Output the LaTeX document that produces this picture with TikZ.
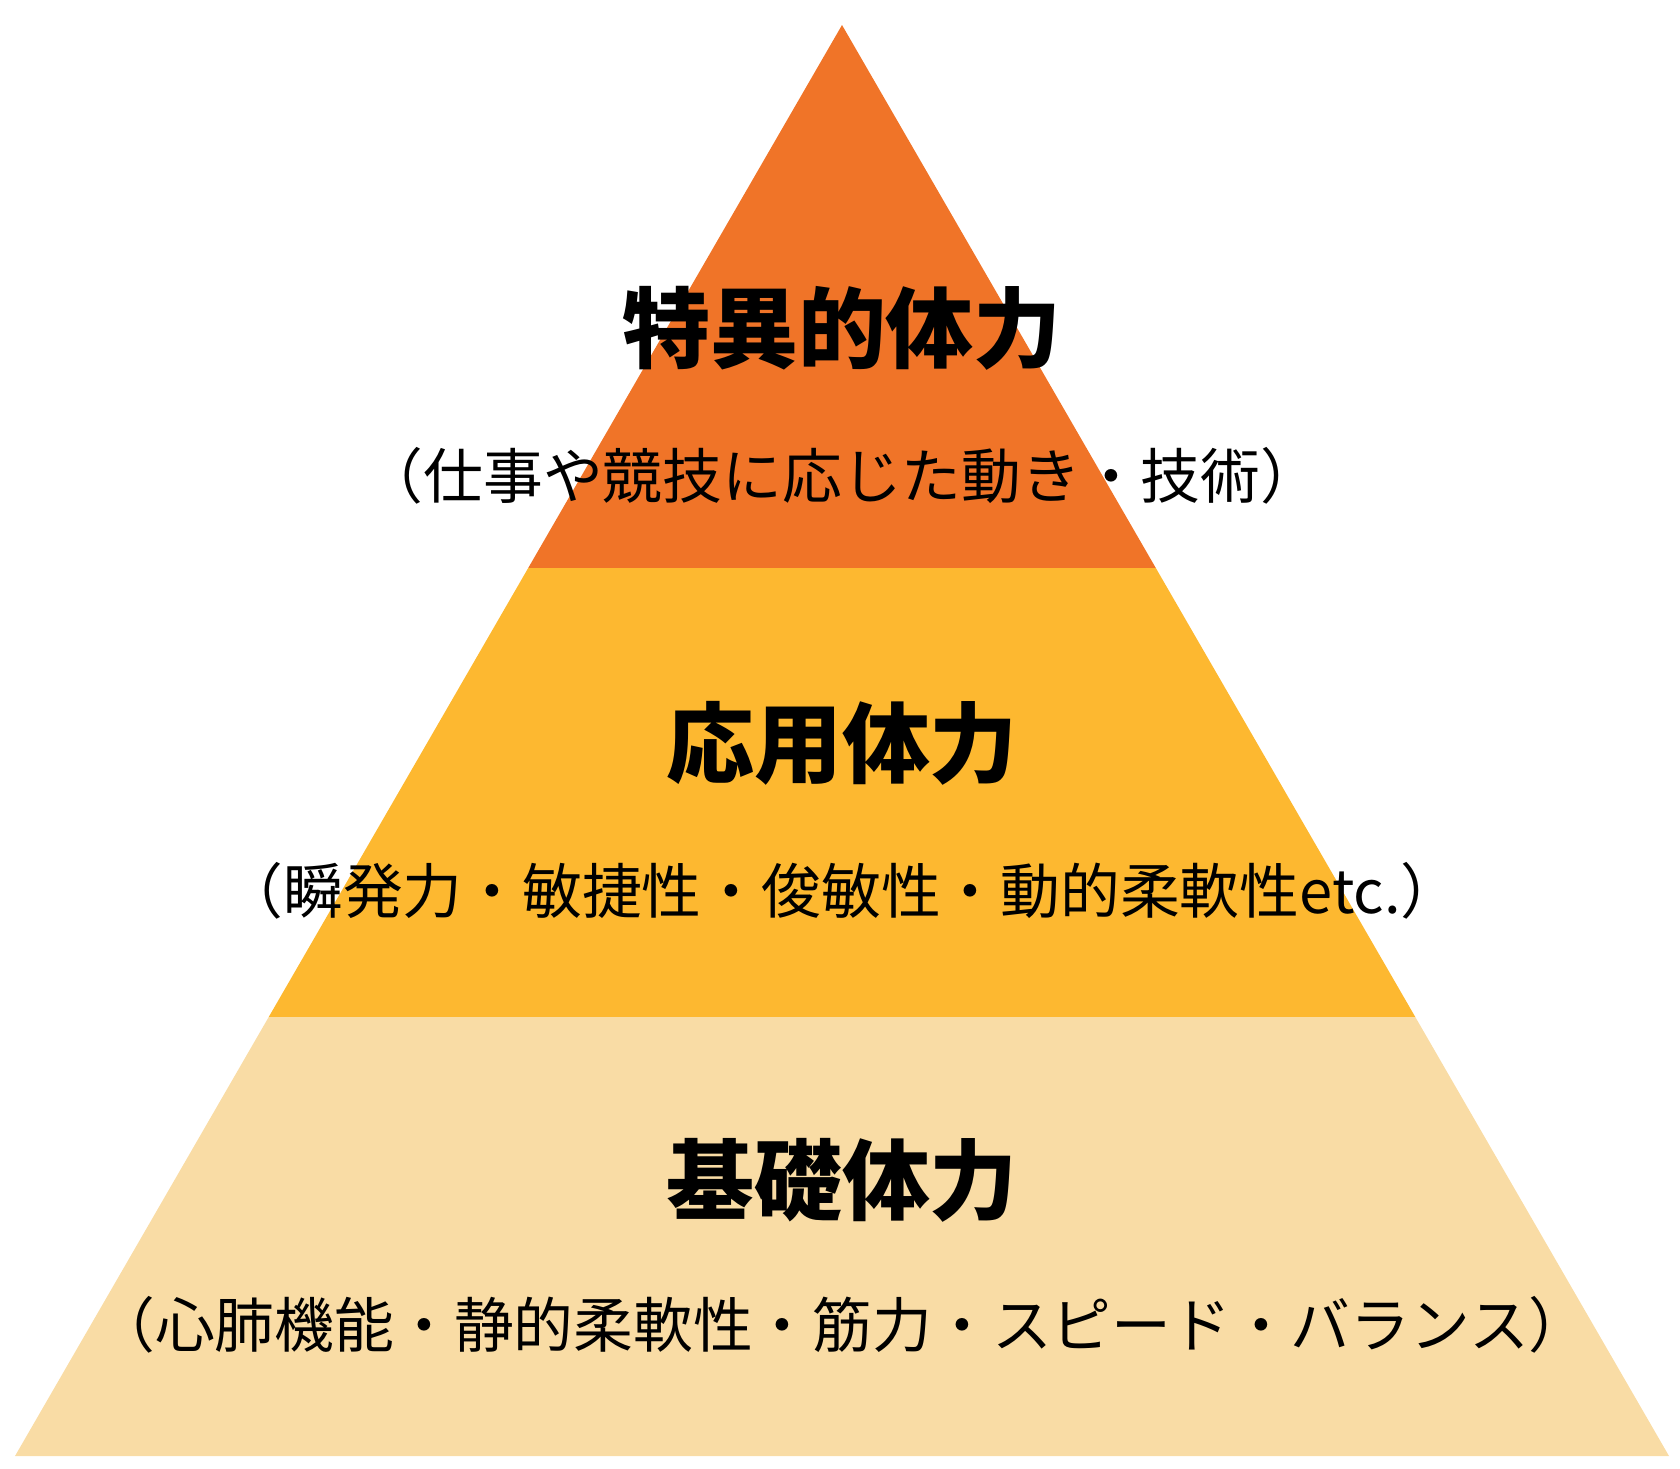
\documentclass[tikz,border=0pt]{standalone}
\usepackage{fontspec}
\setmainfont{Noto Sans CJK JP}
\usetikzlibrary{calc}

\definecolor{topband}{RGB}{240,116,40}
\definecolor{midband}{RGB}{253,184,48}
\definecolor{lowband}{RGB}{249,220,165}

\tikzset{
  title/.style={anchor=base, inner sep=0pt, font=\fontsize{25pt}{25pt}\selectfont\bfseries},
  subtitle/.style={anchor=base, inner sep=0pt, font=\fontsize{17pt}{17pt}\selectfont}
}

\begin{document}
\begin{tikzpicture}[x=0.01cm, y=-0.01cm]
      \useasboundingbox (0,0) rectangle (1680,1468);

      % Corners
      \coordinate (apex) at (842,25);
      \coordinate (bl) at (15,1456);
      \coordinate (br) at (1669,1456);
      \coordinate (l1) at ($(apex)!0.3795!(bl)$);
      \coordinate (r1) at ($(apex)!0.3795!(br)$);
      \coordinate (l2) at ($(apex)!0.6932!(bl)$);
      \coordinate (r2) at ($(apex)!0.6932!(br)$);

      % Bands
      \fill[topband] (apex) -- (r1) -- (l1) -- cycle;
      \fill[midband] (l1) -- (r1) -- (r2) -- (l2) -- cycle;
      \fill[lowband] (l2) -- (r2) -- (br) -- (bl) -- cycle;

      % Texts (top)
      \node[title] (tok) at (842,361) {特異的体力};
      \node[subtitle] (toksub) at (842,498) {（仕事や競技に応じた動き・技術）};

      % Texts (middle)
      \node[title] (oyo) at (842,776) {応用体力};
      \node[subtitle] (oyosub) at (842,913) {（瞬発力・敏捷性・俊敏性・動的柔軟性etc.）};

      % Texts (bottom)
      \node[title] (kiso) at (842,1213) {基礎体力};
      \node[subtitle] (kisosub) at (842,1347) {（心肺機能・静的柔軟性・筋力・スピード・バランス）};
\end{tikzpicture}
\end{document}
